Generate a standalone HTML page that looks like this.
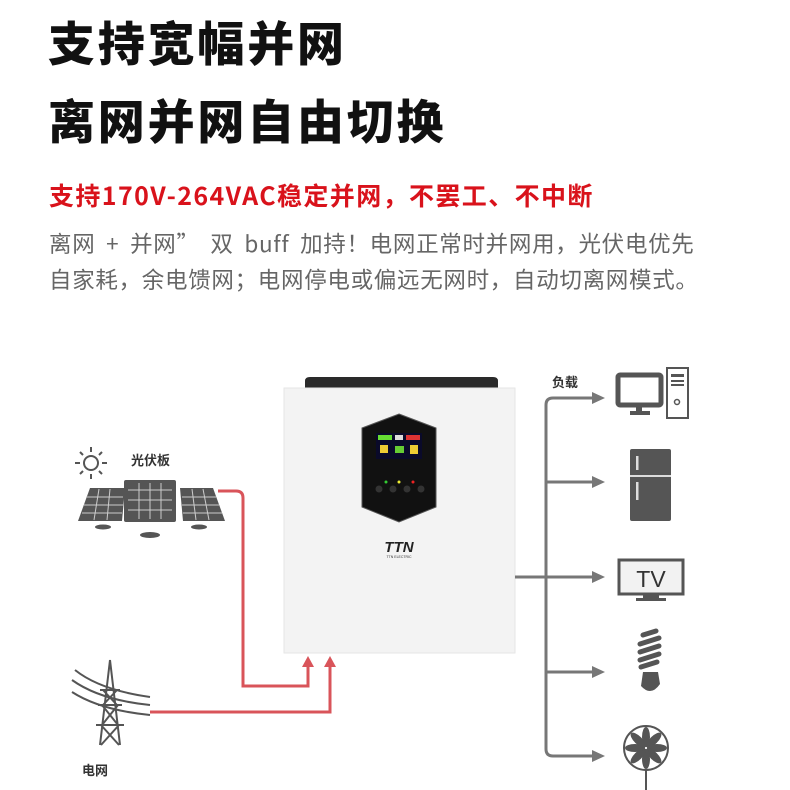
<!DOCTYPE html>
<html><head><meta charset="utf-8"><style>
body{margin:0;width:790px;height:790px;background:#fff;position:relative;overflow:hidden;font-family:"Liberation Sans","Noto Sans CJK SC",sans-serif}
.t{position:absolute;left:48px;font-weight:900;font-size:47px;color:#111;letter-spacing:2.8px;white-space:nowrap;font-family:"Noto Sans CJK SC",sans-serif}
.r{position:absolute;left:49px;top:177px;font-size:25px;font-weight:700;color:#d9121b;white-space:nowrap;font-family:"Noto Sans CJK SC",sans-serif;letter-spacing:1.4px}
.g{position:absolute;left:49px;font-size:22.5px;color:#666;white-space:nowrap;font-family:"Noto Sans CJK SC",sans-serif;line-height:1.2;letter-spacing:0.7px}
svg{position:absolute;left:0;top:0}
</style></head><body>
<div class="t" style="top:6px">支持宽幅并网</div>
<div class="t" style="top:84px">离网并网自由切换</div>
<div class="r">支持170V-264VAC稳定并网，不罢工、不中断</div>
<div class="g" style="top:230px;word-spacing:5px">离网 + 并网” 双 buff 加持！电网正常时并网用，光伏电优先</div>
<div class="g" style="top:266px">自家耗，余电馈网；电网停电或偏远无网时，自动切离网模式。</div>
<svg width="790" height="790" viewBox="0 0 790 790">
<path d="M305 390 L305 381 Q305 377 310 377 L493 377 Q498 377 498 381 L498 390 Z" fill="#2a2a2a"/>
<rect x="284" y="388" width="231" height="265" fill="#f3f3f3" stroke="#e6e6e6"/>
<polygon points="399,414 436,428 436,507 399,522 362,507 362,428" fill="#111" stroke="#555" stroke-width="1"/>
<rect x="376" y="433" width="46" height="26" fill="#0a0a2a"/>
<rect x="378" y="435" width="14" height="5" fill="#6d3"/><rect x="395" y="435" width="8" height="5" fill="#ddd"/><rect x="406" y="435" width="14" height="5" fill="#d33"/>
<rect x="380" y="445" width="8" height="8" fill="#ec3"/><rect x="395" y="446" width="9" height="7" fill="#6c3"/><rect x="410" y="445" width="8" height="9" fill="#ec3"/>
<circle cx="386" cy="482" r="1.5" fill="#3c3"/><circle cx="399" cy="482" r="1.5" fill="#ee3"/><circle cx="413" cy="482" r="1.5" fill="#e22"/>
<circle cx="379" cy="489" r="3.5" fill="#333"/><circle cx="393" cy="489" r="3.5" fill="#333"/><circle cx="407" cy="489" r="3.5" fill="#333"/><circle cx="421" cy="489" r="3.5" fill="#333"/>
<text x="399" y="552" font-size="15" font-weight="900" font-style="italic" text-anchor="middle" fill="#222" font-family="Liberation Sans">TTN</text>
<text x="399" y="558" font-size="3.5" text-anchor="middle" fill="#333" font-family="Liberation Sans">TTN ELECTRIC</text>
<g fill="none" stroke="#d9545a" stroke-width="3">
<path d="M218 491 L236 491 Q243 491 243 498 L243 686 L308 686 L308 664"/>
<path d="M150 712 L330 712 L330 664"/>
</g>
<polygon points="302,667 308,656 314,667" fill="#d9545a"/>
<polygon points="324,667 330,656 336,667" fill="#d9545a"/>
<g fill="none" stroke="#777" stroke-width="3">
<path d="M515 577 L546 577"/>
<path d="M600 398 L553 398 Q546 398 546 405 L546 749 Q546 756 553 756 L600 756"/>
<path d="M546 482 L600 482"/><path d="M546 577 L600 577"/><path d="M546 672 L600 672"/>
</g>
<g fill="#777">
<polygon points="592,392 605,398 592,404"/><polygon points="592,476 605,482 592,488"/><polygon points="592,571 605,577 592,583"/><polygon points="592,666 605,672 592,678"/><polygon points="592,750 605,756 592,762"/>
</g>
<text x="552" y="387" font-size="13" font-weight="700" fill="#333">负载</text>
<rect x="618" y="375" width="43" height="30" rx="2" fill="none" stroke="#555" stroke-width="5"/>
<rect x="636" y="405" width="6" height="6" fill="#555"/><rect x="630" y="411" width="20" height="4" fill="#555"/>
<rect x="667" y="368" width="21" height="50" fill="none" stroke="#555" stroke-width="2"/>
<rect x="671" y="374" width="13" height="3" fill="#555"/><rect x="671" y="380" width="13" height="2" fill="#555"/><rect x="671" y="384" width="13" height="2" fill="#555"/>
<circle cx="677" cy="402" r="2.5" fill="none" stroke="#555" stroke-width="1.5"/>
<rect x="630" y="449" width="41" height="72" rx="2" fill="#555"/>
<rect x="630" y="475" width="41" height="2" fill="#ddd"/>
<rect x="636" y="456" width="2.5" height="14" fill="#ddd"/><rect x="636" y="482" width="2.5" height="18" fill="#ddd"/>
<rect x="619" y="560" width="64" height="34" fill="#f2f2f2" stroke="#555" stroke-width="3"/>
<text x="651" y="587" font-size="23" text-anchor="middle" fill="#333" font-family="Liberation Sans">TV</text>
<rect x="643" y="594" width="16" height="4" fill="#555"/><rect x="636" y="598" width="30" height="3" fill="#555"/>
<g stroke="#555" stroke-width="5" stroke-linecap="round"><line x1="643" y1="635" x2="656" y2="631"/><line x1="640" y1="644" x2="659" y2="638"/><line x1="640" y1="652" x2="659" y2="646"/><line x1="640" y1="660" x2="659" y2="654"/><line x1="641" y1="667" x2="657" y2="662"/></g>
<path d="M643 672 L658 672 L660 684 Q651 697 641 686 Z" fill="#555"/>
<circle cx="646" cy="748" r="22" fill="none" stroke="#555" stroke-width="2"/>
<g fill="#555" transform="translate(646,748)">
<ellipse cx="0" cy="-11" rx="4" ry="10"/><ellipse cx="0" cy="-11" rx="4" ry="10" transform="rotate(45)"/><ellipse cx="0" cy="-11" rx="4" ry="10" transform="rotate(90)"/><ellipse cx="0" cy="-11" rx="4" ry="10" transform="rotate(135)"/><ellipse cx="0" cy="-11" rx="4" ry="10" transform="rotate(180)"/><ellipse cx="0" cy="-11" rx="4" ry="10" transform="rotate(225)"/><ellipse cx="0" cy="-11" rx="4" ry="10" transform="rotate(270)"/><ellipse cx="0" cy="-11" rx="4" ry="10" transform="rotate(315)"/>
</g>
<line x1="646" y1="770" x2="646" y2="790" stroke="#555" stroke-width="2"/>
<circle cx="91" cy="463" r="7" fill="none" stroke="#555" stroke-width="2"/>
<g stroke="#555" stroke-width="2"><line x1="91" y1="447" x2="91" y2="452"/><line x1="91" y1="474" x2="91" y2="479"/><line x1="75" y1="463" x2="80" y2="463"/><line x1="102" y1="463" x2="107" y2="463"/><line x1="80" y1="452" x2="83" y2="455"/><line x1="99" y1="471" x2="102" y2="474"/><line x1="102" y1="452" x2="99" y2="455"/><line x1="83" y1="471" x2="80" y2="474"/></g>
<text x="131" y="465" font-size="13" font-weight="700" fill="#333">光伏板</text>
<g fill="#555">
<polygon points="90,488 125,488 122,521 78,521"/>
<rect x="124" y="480" width="52" height="42" rx="2"/>
<polygon points="180,488 213,488 225,521 183,521"/>
<ellipse cx="103" cy="527" rx="8" ry="2.5"/><ellipse cx="150" cy="535" rx="10" ry="3"/><ellipse cx="199" cy="527" rx="8" ry="2.5"/>
</g>
<g stroke="#ccc" stroke-width="1">
<line x1="128" y1="490" x2="172" y2="490"/><line x1="128" y1="500" x2="172" y2="500"/><line x1="128" y1="510" x2="172" y2="510"/>
<line x1="139" y1="483" x2="139" y2="519"/><line x1="150" y1="483" x2="150" y2="519"/><line x1="161" y1="483" x2="161" y2="519"/>
<line x1="86" y1="497" x2="123" y2="497"/><line x1="84" y1="505" x2="123" y2="505"/><line x1="82" y1="513" x2="122" y2="513"/>
<line x1="99" y1="489" x2="94" y2="520"/><line x1="110" y1="489" x2="107" y2="520"/>
<line x1="182" y1="497" x2="216" y2="497"/><line x1="182" y1="505" x2="219" y2="505"/><line x1="183" y1="513" x2="222" y2="513"/>
<line x1="192" y1="489" x2="196" y2="520"/><line x1="203" y1="489" x2="209" y2="520"/>
</g>
<g fill="none" stroke="#555" stroke-width="2">
<path d="M110 660 L100 745 M110 660 L120 745 M100 690 L120 690 M98 705 L122 705 M96 725 L124 725 M103 690 L117 705 M117 690 L103 705 M102 705 L118 725 M118 705 L102 725 M101 725 L119 745 M119 725 L101 745"/>
<path d="M75 670 Q100 690 150 697 M72 680 Q100 700 150 705 M72 692 Q100 710 150 715"/>
</g>
<text x="82" y="775" font-size="13" font-weight="700" fill="#333">电网</text>
</svg>
</body></html>
